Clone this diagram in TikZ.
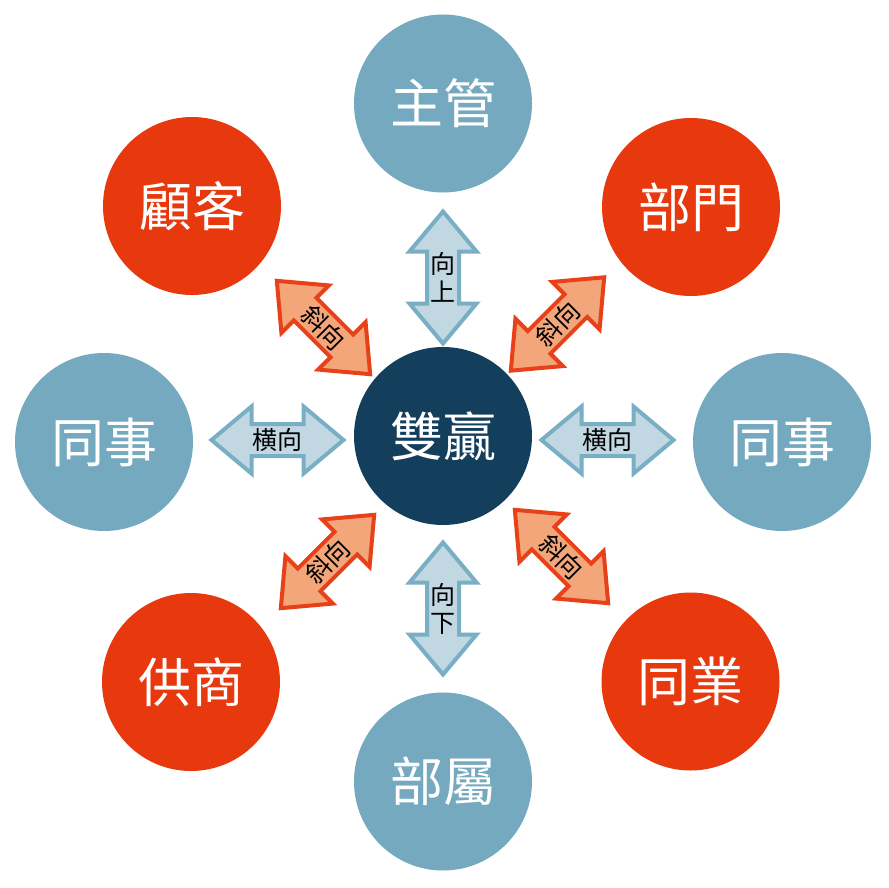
\documentclass[tikz,border=0pt]{standalone}
\usepackage{fontspec}
\setmainfont{Noto Sans CJK TC}
\definecolor{cblue}{HTML}{74A9BF}
\definecolor{cred}{HTML}{E8390E}
\definecolor{cdark}{HTML}{133E5C}
\definecolor{ablueF}{HTML}{C1D7E1}
\definecolor{ablueD}{HTML}{78AFC4}
\definecolor{aredF}{HTML}{F3A67A}
\definecolor{aredD}{HTML}{E8411A}
\tikzset{
  bubble/.style={circle,minimum size=178pt,inner sep=0pt,text=white,font=\fontsize{53}{56}\selectfont},
  bluebub/.style={bubble,fill=cblue},
  redbub/.style={bubble,fill=cred},
  darkbub/.style={bubble,fill=cdark},
  bluearr/.style={fill=ablueF,draw=ablueD,line width=4pt,line join=miter},
  redarr/.style={fill=aredF,draw=aredD,line width=4pt,line join=miter},
  arrlabel/.style={inner sep=0pt,text=black,align=center,font=\fontsize{25}{28}\selectfont}
}
\newcommand{\dblarr}[7]{%
  \begin{scope}[shift={(#2,#3)},rotate=#4]
    \path[#5] (-66,0) -- (-26,33.5) -- (-26,16) -- (26,16) -- (26,33.5) -- (66,0)
      -- (26,-33.5) -- (26,-16) -- (-26,-16) -- (-26,-33.5) -- cycle;
  \end{scope}
  \node[arrlabel,rotate=#6] (#1) at (#2,#3) {#7};
}
\begin{document}
\begin{tikzpicture}[x=1pt,y=-1pt]
\useasboundingbox (0,0) rectangle (888,888);
\fill[white] (0,0) rectangle (888,888);
% circles
\node[darkbub] (center) at (443,436) {雙贏};
\node[bluebub] (top) at (443,103.5) {主管};
\node[bluebub] (bottom) at (443,781.5) {部屬};
\node[bluebub] (left) at (104,442) {同事};
\node[bluebub] (right) at (782,442) {同事};
\node[redbub] (tl) at (192,206) {顧客};
\node[redbub] (tr) at (691,207) {部門};
\node[redbub] (bl) at (191,682) {供商};
\node[redbub] (br) at (690.5,681.5) {同業};
% arrows
\dblarr{aup}{443}{277.5}{90}{bluearr}{0}{向\\上}
\dblarr{adown}{443}{608.5}{90}{bluearr}{0}{向\\下}
\dblarr{aleft}{277.5}{440}{0}{bluearr}{0}{横向}
\dblarr{aright}{607.5}{440}{0}{bluearr}{0}{横向}
\dblarr{atl}{323.5}{327.5}{-45}{redarr}{-45}{斜向}
\dblarr{atr}{557.5}{324}{45}{redarr}{45}{斜向}
\dblarr{abl}{327.5}{561.5}{45}{redarr}{45}{斜向}
\dblarr{abr}{561.5}{556.5}{-45}{redarr}{-45}{斜向}
\end{tikzpicture}
\end{document}
